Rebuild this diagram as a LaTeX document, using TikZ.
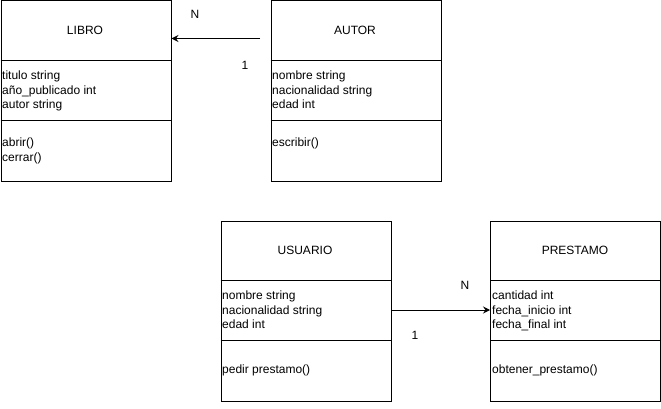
\documentclass[tikz,border=0pt]{standalone}
\usepackage{fontspec}
\setmainfont{Liberation Sans}
\usetikzlibrary{arrows.meta}
\begin{document}
\begin{tikzpicture}[x=1pt,y=-1pt,
  cls/.style={draw,line width=1pt,minimum width=170pt,minimum height=180pt,inner sep=0pt,anchor=north west},
  ttl/.style={font=\fontsize{12pt}{14.5pt}\selectfont,anchor=center},
  txt/.style={font=\fontsize{12pt}{14.5pt}\selectfont,anchor=north west,align=left,inner sep=0pt},
  sep/.style={line width=1pt},
  arr/.style={line width=1pt,-{Stealth[length=7pt,width=7pt,inset=2.5pt]}},
  lbl/.style={font=\fontsize{12pt}{14.5pt}\selectfont,inner sep=0pt}]
\useasboundingbox (0,0) rectangle (661,409);
% LIBRO
\node[cls] (libro) at (0.5,0.5) {};
\draw[sep] (0.5,60.5) -- (170.5,60.5);
\draw[sep] (0.5,120.5) -- (170.5,120.5);
\node[ttl] (libroT) at (85,30) {LIBRO};
\node[txt] (libroA) at (2,71) {titulo string\\año\_publicado int\\autor string};
\node[txt] (libroM) at (2,138) {abrir()\\cerrar()};
% AUTOR
\node[cls] (autor) at (270.5,0.5) {};
\draw[sep] (270.5,60.5) -- (440.5,60.5);
\draw[sep] (270.5,120.5) -- (440.5,120.5);
\node[ttl] (autorT) at (355,30) {AUTOR};
\node[txt] (autorA) at (272,71) {nombre string\\nacionalidad string\\edad int};
\node[txt] (autorM) at (272,138) {escribir()};
% USUARIO
\node[cls] (usuario) at (220.5,220.5) {};
\draw[sep] (220.5,280.5) -- (390.5,280.5);
\draw[sep] (220.5,340.5) -- (390.5,340.5);
\node[ttl] (usuarioT) at (305,250) {USUARIO};
\node[txt] (usuarioA) at (222,291) {nombre string\\nacionalidad string\\edad int};
\node[txt] (usuarioM) at (222,365) {pedir prestamo()};
% PRESTAMO
\node[cls] (prestamo) at (490,220.5) {};
\draw[sep] (490,280.5) -- (660,280.5);
\draw[sep] (490,340.5) -- (660,340.5);
\node[ttl] (prestamoT) at (575,250) {PRESTAMO};
\node[txt] (prestamoA) at (492,291) {cantidad int\\fecha\_inicio int\\fecha\_final int};
\node[txt] (prestamoM) at (492,365) {obtener\_prestamo()};
% connectors
\coordinate (a1) at (260,38.5);
\draw[arr] (a1) -- (a1 -| libro.east);
\node[lbl] (n1) at (195,14) {N};
\node[lbl] (o1) at (245,65) {1};
\coordinate (a2) at (390.5,310);
\draw[arr] (a2 -| usuario.east) -- (a2 -| prestamo.west);
\node[lbl] (n2) at (465,285) {N};
\node[lbl] (o2) at (415,335) {1};
\end{tikzpicture}
\end{document}
